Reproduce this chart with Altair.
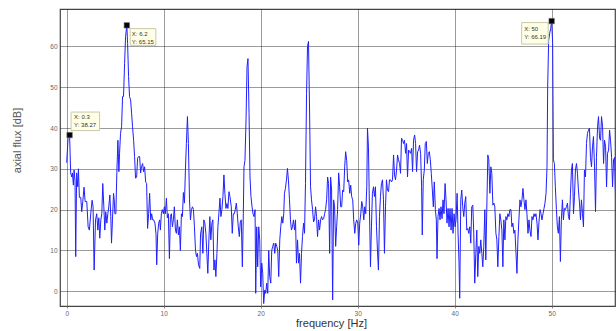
import altair as alt
import pandas as pd

# ---- spectrum values (frequency in Hz, level in dB) ----
seg1_hz = [0.0, 0.14, 0.3, 0.41, 0.52, 0.59, 0.69, 0.76, 0.86, 0.93,
           1.03, 1.14, 1.21, 1.31, 1.45, 1.55, 1.66, 1.79, 1.9, 2.07,
           2.21, 2.34, 2.48, 2.62, 2.72, 2.83, 2.97, 3.1, 3.21, 3.31,
           3.41, 3.52, 3.62, 3.72, 3.83, 3.93, 4.03, 4.14, 4.24, 4.34,
           4.45, 4.55, 4.62, 4.72, 4.83, 4.9, 4.97, 5.07, 5.17, 5.28,
           5.38, 5.45, 5.55, 5.66, 5.76, 5.86, 5.97, 6.07, 6.2, 6.28,
           6.38, 6.48, 6.59, 6.69, 6.79, 6.9, 7.0, 7.1, 7.21, 7.31,
           7.41, 7.52, 7.62, 7.72, 7.83, 7.93, 8.03, 8.14, 8.24, 8.34,
           8.45, 8.55, 8.66, 8.76, 8.86, 8.97, 9.1, 9.21, 9.28, 9.38,
           9.48, 9.59, 9.66, 9.76, 9.86, 9.97, 10.07, 10.17, 10.28, 10.38,
           10.48, 10.59, 10.69, 10.79, 10.9, 11.0, 11.1, 11.21, 11.31, 11.41,
           11.52, 11.62, 11.72, 11.83, 11.93, 12.03, 12.14, 12.24, 12.34, 12.45,
           12.55, 12.66, 12.76, 12.86, 12.97, 13.07, 13.17, 13.28, 13.38, 13.48,
           13.59, 13.72]
seg1_db = [31.5, 37.5, 38.27, 29, 28, 29, 26, 29.7, 27, 8.5,
           29, 25.6, 30, 23, 23, 19.5, 22, 25.5, 22, 22,
           15.8, 15, 19, 22.3, 20.7, 5.2, 17.5, 19, 15, 18,
           13, 17.5, 19, 26.4, 20.7, 15, 19.5, 16.7, 19, 20.7,
           23.6, 18.3, 11.8, 17.5, 24, 22.4, 19, 19, 29, 37,
           29.3, 33.8, 38.7, 40.3, 47.7, 47.7, 55.8, 62.4, 65.15, 60.7,
           52.6, 47.7, 46.9, 43.6, 40.3, 37, 33, 27.7, 28, 32.6,
           33, 33, 29, 30.5, 31.3, 29.3, 30.5, 26.8, 26.4, 15.4,
           19, 24, 17.5, 19, 17.5, 17.5, 16.7, 14, 6.5, 14,
           16.7, 17.5, 15, 19, 20, 19, 20.7, 19, 22.8, 18,
           19, 8, 18.3, 19, 15.8, 17.5, 20.7, 15, 14.2, 17.5,
           13.8, 15.8, 10, 19, 18.3, 24.2, 21.6, 29.7, 36.2, 42.8,
           36.2, 22.4, 17.5, 20, 20.7, 20, 15.8, 10, 8.5, 9.3,
           6.5, 5.6]

seg2_hz = [13.8, 13.93, 14.04, 14.14, 14.24, 14.35, 14.45, 14.55, 14.66, 14.76,
           14.86, 14.97, 15.07, 15.18, 15.28, 15.38, 15.49, 15.59, 15.69, 15.8,
           15.9, 16.0, 16.11, 16.21, 16.31, 16.42, 16.52, 16.62, 16.73, 16.83,
           16.97, 17.07, 17.18, 17.28, 17.38, 17.49, 17.59, 17.69, 17.8, 17.9,
           18.0, 18.11, 18.21, 18.28, 18.38, 18.49, 18.59, 18.69, 18.8, 18.9,
           19.0, 19.11, 19.21, 19.31, 19.42, 19.49, 19.59, 19.69, 19.8, 19.9,
           20.0, 20.11, 20.21, 20.31, 20.42, 20.52, 20.62, 20.73, 20.83, 20.93,
           21.04, 21.14, 21.24, 21.35, 21.45, 21.55, 21.66, 21.76, 21.86, 21.97,
           22.07, 22.18, 22.28, 22.38, 22.45, 22.55, 22.66, 22.76, 22.86, 22.97,
           23.07, 23.17, 23.28, 23.38, 23.49, 23.59, 23.69, 23.8, 23.9, 24.0,
           24.11, 24.21, 24.31, 24.42, 24.52, 24.62, 24.73, 24.83, 24.93, 25.04,
           25.14, 25.24, 25.35, 25.45, 25.55, 25.66, 25.76, 25.86, 25.97, 26.07,
           26.18, 26.28, 26.38, 26.49, 26.59, 26.69, 26.8, 26.9, 27.0, 27.11,
           27.21, 27.31, 27.42, 27.52, 27.62, 27.73, 27.83, 27.93]
seg2_db = [14, 15.8, 9.3, 17.5, 16.7, 14.2, 9.3, 4.4, 12.6, 18.3,
           12.6, 16.7, 17.5, 5.2, 7.7, 3.6, 9.3, 15.8, 19, 22.8,
           18.3, 20, 23.2, 28.5, 24, 20.3, 21.5, 20.3, 24.4, 23.2,
           20.7, 14.2, 19, 19, 20, 21.6, 19, 15.8, 13.4, 17,
           17.5, 6, 19, 30.5, 32, 42, 55, 57, 43.6, 28,
           23.2, 20.7, 19, 18.3, 20, -0.5, 15.8, 6, 15.8, 12.6,
           1.1, 6.9, 4.4, -3, 0.3, -0.5, 2, -0.5, 10, 3.6,
           2, 10, 11, 11.8, 9.3, 11.8, 11, 10, 3.6, 12.6,
           15.8, 18.3, 16.7, 19, 24, 25.2, 27.3, 30.1, 27.3, 22.4,
           17.5, 15, 15.8, 17.5, 15, 17.5, 6.9, 12.6, 6.9, 9.3,
           2, 9.3, 13.4, 16.7, 14.2, 26.4, 48.5, 60, 61.2, 44.4,
           25.6, 22.4, 20, 17, 17.5, 20.7, 18.3, 13.4, 17.5, 15,
           17.5, 18.3, 17.5, 17.8, 19, 20, 22.4, 28, 26.4, 9.3,
           28, 24.8, -2.1, 22.4, 20.7, 11, 15.8, 20]

seg3_hz = [28.04, 28.14, 28.25, 28.35, 28.45, 28.56, 28.66, 28.76, 28.87, 28.97,
           29.07, 29.18, 29.28, 29.38, 29.49, 29.59, 29.7, 29.8, 29.9, 30.01,
           30.11, 30.21, 30.32, 30.42, 30.52, 30.63, 30.73, 30.83, 30.94, 31.01,
           31.11, 31.21, 31.32, 31.42, 31.52, 31.63, 31.73, 31.83, 31.94, 32.04,
           32.14, 32.25, 32.35, 32.45, 32.56, 32.66, 32.76, 32.87, 32.97, 33.07,
           33.18, 33.28, 33.39, 33.49, 33.59, 33.7, 33.8, 33.9, 34.01, 34.11,
           34.21, 34.32, 34.42, 34.52, 34.63, 34.73, 34.83, 34.94, 35.04, 35.14,
           35.25, 35.35, 35.45, 35.56, 35.66, 35.76, 35.87, 35.97, 36.07, 36.18,
           36.28, 36.38, 36.49, 36.59, 36.66, 36.76, 36.87, 36.97, 37.08, 37.18,
           37.28, 37.39, 37.49, 37.59, 37.7, 37.8, 37.9, 38.01, 38.11, 38.18,
           38.28, 38.39, 38.49, 38.59, 38.7, 38.8, 38.9, 39.01, 39.11, 39.21,
           39.32, 39.42, 39.52, 39.63, 39.73, 39.83, 39.94, 40.04, 40.14, 40.25,
           40.35, 40.45, 40.52, 40.63, 40.73, 40.83, 40.94, 41.04, 41.14, 41.25,
           41.35, 41.45, 41.56, 41.66, 41.76, 41.87, 41.97, 42.07, 42.18]
seg3_db = [29, 25.6, 20.7, 20.7, 24.8, 24.4, 30.5, 34.2, 32, 26.8,
           27.3, 24, 26, 23.2, 22.4, 17.5, 14.2, 16.7, 17.5, 16.7,
           11.3, 16.7, 19, 22, 20.7, 17.5, 20.7, 19, 25.6, 40,
           35.4, 20.7, 6, 15.8, 24, 25.6, 23.2, 25.6, 15.8, 10,
           5.2, 18.3, 23.2, 26.4, 27.3, 22.4, 9.3, 20.7, 27.3, 24.8,
           24.4, 27.3, 27.3, 26.8, 27.3, 33.4, 28.5, 27.3, 29.7, 33.4,
           32.2, 31.3, 28.9, 37.5, 37, 36.2, 37, 33.8, 36.2, 28,
           34.6, 34.2, 33.8, 35, 29.3, 37, 38.3, 36.2, 29.3, 34.2,
           34.6, 35.8, 33.8, 25.6, 13.8, 27.3, 29.7, 36.2, 36.7, 31.3,
           33.8, 34.2, 32.2, 28.9, 24.8, 20.7, 26.8, 20, 17.5, 8,
           18.3, 20.3, 17.5, 20.7, 17.8, 22.4, 19, 26.4, 22.4, 16.7,
           20.3, 15.8, 20.3, 15, 20.3, 14.2, 19, 15.8, 17.5, 24,
           14.2, 6.9, -1.7, 22.4, 24.8, 20.7, 18.3, 21.6, 23.2, 15,
           15.4, 14.2, 15.8, 11.8, 20.7, 21.1, 14.2, 2, 9.3]

seg4_hz = [42.28, 42.38, 42.49, 42.59, 42.69, 42.8, 42.9, 43.0, 43.11, 43.21,
           43.31, 43.42, 43.52, 43.63, 43.73, 43.83, 43.94, 44.04, 44.14, 44.25,
           44.35, 44.45, 44.56, 44.66, 44.76, 44.87, 44.97, 45.07, 45.18, 45.28,
           45.38, 45.49, 45.59, 45.69, 45.8, 45.9, 46.0, 46.11, 46.21, 46.31,
           46.42, 46.52, 46.62, 46.73, 46.83, 46.94, 47.04, 47.14, 47.25, 47.35,
           47.45, 47.56, 47.66, 47.76, 47.87, 47.97, 48.07, 48.18, 48.28, 48.38,
           48.49, 48.59, 48.69, 48.8, 48.9, 49.0, 49.11, 49.21, 49.31, 49.42,
           49.52, 49.59, 49.69, 49.8, 49.9, 50.0, 50.1, 50.18, 50.28, 50.38,
           50.49, 50.59, 50.69, 50.8, 50.9, 51.0, 51.11, 51.21, 51.31, 51.42,
           51.52, 51.63, 51.73, 51.83, 51.94, 52.04, 52.14, 52.25, 52.35, 52.45,
           52.56, 52.66, 52.76, 52.87, 52.97, 53.07, 53.18, 53.28, 53.38, 53.49,
           53.59, 53.69, 53.8, 53.9, 54.0, 54.11, 54.21, 54.31, 54.42, 54.52,
           54.62, 54.73, 54.83, 54.94, 55.04, 55.14, 55.25, 55.35, 55.45, 55.56,
           55.66, 55.76, 55.87, 55.97, 56.07, 56.18, 56.28, 56.38, 56.49, 56.59,
           56.66]
seg4_db = [15, 3.6, 11, 9.3, 12.6, 9.3, 6, 11, 20, 7.7,
           20, 33.4, 32.2, 24, 30.5, 28.9, 21.1, 21.6, 20.7, 14.2,
           12.6, 6, 13.4, 19, 17.5, 15, 6, 17.5, 12.6, 18.3,
           17.5, 19, 18.3, 20, 20, 15.8, 16.7, 14.2, 15, 10,
           4.4, 12.6, 17.5, 22.4, 20.7, 22.4, 25.2, 22.4, 20, 22.4,
           19, 14.2, 17.5, 15, 13.4, 18.3, 17.5, 19, 18.3, 19,
           16.7, 12.6, 17, 20, 19, 17.5, 19, 20.3, 21.6, 24,
           30.5, 50, 61.5, 63.2, 64.4, 66.19, 60.9, 32.2, 31.3, 25.6,
           20, 15.8, 14.2, 18.3, 7.3, 17.5, 22.4, 17.5, 20.3, 20,
           20.7, 21.6, 18.3, 17.5, 24, 29.7, 31.3, 19, 23.2, 29.7,
           31.3, 28.9, 24.8, 21.6, 17.5, 22.4, 19, 15.8, 29.7, 28,
           36.2, 38.7, 39.5, 40, 32.8, 30.5, 35.4, 37.9, 30.5, 19.5,
           32.8, 40.3, 42.8, 37.5, 37, 42.8, 40.3, 31.3, 37, 35.4,
           25.6, 33.8, 34.6, 39.5, 37, 32.8, 25.6, 32.2, 32.8, 22.4,
           24]

# data tips shown on the reference
tip_hz = [0.3, 6.2, 50]
tip_db = [38.27, 65.15, 66.19]

x_ticks = [0, 10, 20, 30, 40, 50]
y_ticks = [0, 10, 20, 30, 40, 50, 60]

spectrum = pd.DataFrame({
    "f": seg1_hz + seg2_hz + seg3_hz + seg4_hz,
    "db": seg1_db + seg2_db + seg3_db + seg4_db,
})

FONT = "Liberation Sans"

x_scale = alt.Scale(domain=[-0.69, 56.53], nice=False, zero=False)
y_scale = alt.Scale(domain=[-3.6, 69.15], nice=False, zero=False)

grid_kw = dict(grid=True, gridColor="#222222", gridDash=[1, 1], gridWidth=1,
               gridOpacity=0.9, domain=False, labelFont=FONT, labelFontSize=6.5,
               labelColor="#666666", titleFont=FONT, titleFontWeight="normal")

x_axis = alt.Axis(values=x_ticks, title="frequency [Hz]", tickSize=2,
                  tickColor="#888888", labelPadding=2, titleFontSize=11,
                  titleColor="#333333", titleX=271, titleY=17,
                  titleBaseline="middle", titleAlign="center", **grid_kw)
y_axis = alt.Axis(values=y_ticks, title="axial flux [dB]", ticks=False,
                  labelPadding=3, titleFontSize=11, titleColor="#555555",
                  titleAngle=270, titleX=-43, titleY=131,
                  titleBaseline="middle", titleAlign="center", **grid_kw)

x_enc = alt.X("f:Q", scale=x_scale, axis=x_axis)
y_enc = alt.Y("db:Q", scale=y_scale, axis=y_axis)

line = alt.Chart(spectrum).mark_line(
    color="#1f1fff", strokeWidth=1, clip=True, interpolate="linear"
).encode(x=x_enc, y=y_enc)

layers = [line]

# pixel placement of each tip's box and text, relative to its marker
placements = [
    dict(bx0=1.5, bx1=30, by0=-23, by1=-4.5, tdx=4.5, tdy1=-18.5, tdy2=-10.5),
    dict(bx0=3.3, bx1=29, by0=3.3, by1=20, tdx=5, tdy1=8.5, tdy2=16.5),
    dict(bx0=-30, bx1=-3.5, by0=1.5, by1=23, tdx=-27.5, tdy1=7.5, tdy2=15.5),
]

for fx, fy, pl in zip(tip_hz, tip_db, placements):
    tdf = pd.DataFrame({"f": [fx], "db": [fy],
                        "lx": ["X: " + f"{fx:g}"],
                        "ly": ["Y: " + f"{fy:.2f}"]})
    base = alt.Chart(tdf)
    box = base.mark_rect(
        fill="#ffffe8", stroke="#c9c9a8", strokeWidth=1,
        xOffset=pl["bx0"], x2Offset=pl["bx1"],
        yOffset=pl["by0"], y2Offset=pl["by1"],
    ).encode(x=x_enc, x2="f:Q", y=y_enc, y2="db:Q")
    marker = base.mark_square(size=30, color="#000000", opacity=1,
                              stroke="#777777", strokeWidth=0.6).encode(x=x_enc, y=y_enc)
    t1 = base.mark_text(align="left", baseline="middle", dx=pl["tdx"], dy=pl["tdy1"],
                        font=FONT, fontSize=6, color="#333333").encode(
        x=x_enc, y=y_enc, text="lx:N")
    t2 = base.mark_text(align="left", baseline="middle", dx=pl["tdx"], dy=pl["tdy2"],
                        font=FONT, fontSize=6, color="#333333").encode(
        x=x_enc, y=y_enc, text="ly:N")
    layers += [box, marker, t1, t2]

chart = alt.layer(*layers).properties(
    width=555, height=297,
    autosize=alt.AutoSizeParams(type="none"),
    padding={"left": 60, "top": 9, "right": 1, "bottom": 25},
    background="white",
).configure_view(stroke="#444444", strokeWidth=1.2)

chart.save("out.html", embed_options={"renderer": "svg", "actions": False})
